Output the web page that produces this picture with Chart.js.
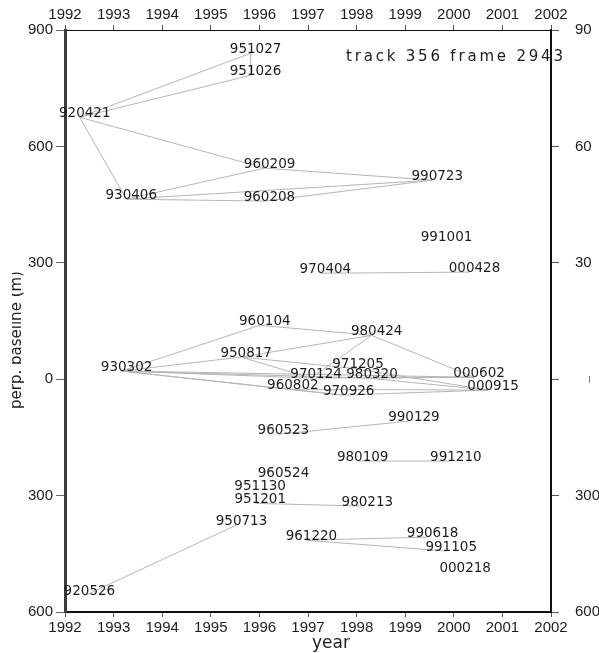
<!DOCTYPE html>
<html>
<head>
<meta charset="utf-8">
<script src="https://cdn.jsdelivr.net/npm/chart.js@4.4.1/dist/chart.umd.min.js"></script>
<style>
  html, body { margin: 0; padding: 0; background: #fff; }
  #wrap { width: 599px; height: 653px; }
</style>
</head>
<body>
<div id="wrap"><canvas id="c" width="599" height="653"></canvas></div>
<script>
// Acquisition dates (YYMMDD) and their perpendicular baselines in metres
const acquisitions = [
  '920421', '951027', '951026', '960209', '990723', '930406', '960208',
  '991001', '970404', '000428',
  '960104', '980424', '950817', '930302', '971205', '970124', '980320',
  '000602', '960802', '970926', '000915',
  '990129', '960523', '980109', '991210', '960524', '951130', '951201',
  '980213', '950713', '961220', '990618', '991105', '000218', '920526'
];
const baselines = [
  675, 840, 783, 544, 513, 464, 459,
  356, 273, 276,
  139, 113, 57, 21, 28, 3, 3,
  5, -26, -41, -28,
  -108, -142, -211, -211, -253, -286, -320,
  -327, -376, -415, -407, -443, -497, -558
];
// Interferometric pairs joined by a line
const pairs = [
  ['920421', '951027'], ['920421', '951026'], ['951027', '951026'],
  ['920421', '960209'], ['920421', '930406'], ['930406', '960209'],
  ['930406', '960208'], ['930406', '990723'], ['960209', '990723'],
  ['960208', '990723'],
  ['970404', '000428'],
  ['930302', '960104'], ['930302', '950817'], ['930302', '970124'],
  ['930302', '980320'], ['930302', '960802'], ['930302', '000602'],
  ['930302', '970926'],
  ['960104', '980424'], ['950817', '980424'], ['950817', '971205'],
  ['950817', '970124'], ['980424', '970124'], ['980424', '000602'],
  ['970124', '000602'], ['980320', '000602'], ['971205', '000915'],
  ['960802', '000915'], ['970926', '000915'], ['960802', '970926'],
  ['980320', '000915'],
  ['960523', '990129'], ['980109', '991210'], ['951201', '980213'],
  ['920526', '950713'], ['961220', '990618'], ['961220', '991105']
];
const yearTicks = ['1992', '1993', '1994', '1995', '1996', '1997', '1998', '1999', '2000', '2001', '2002'];
const leftTickLabels = ['600', '300', '0', '300', '600', '900'];          // -600 .. 900
const rightTickLabels = ['600', '300', '       |', '30', '60', '90'];     // -600 .. 900
const plotTitle = 'track 356 frame 2943';
const xTitle = 'year';
const yTitle = 'perp. baseline (m)';

// YYMMDD -> decimal year
function decimalYear(s) {
  const yy = +s.slice(0, 2), mm = +s.slice(2, 4), dd = +s.slice(4, 6);
  const y = yy >= 90 ? 1900 + yy : 2000 + yy;
  const start = Date.UTC(y, 0, 1), end = Date.UTC(y + 1, 0, 1);
  return y + (Date.UTC(y, mm - 1, dd) - start) / (end - start);
}

const nodes = acquisitions.map((d, i) => ({ x: decimalYear(d), y: baselines[i] }));
const idx = d => acquisitions.indexOf(d);

const datasets = [{
  label: 'acquisitions',
  data: nodes,
  pointRadius: 0,
  pointHoverRadius: 0,
  showLine: false
}];
pairs.forEach(([a, b]) => {
  datasets.push({
    label: a + '-' + b,
    data: [nodes[idx(a)], nodes[idx(b)]],
    showLine: true,
    borderColor: '#b5b5b5',
    borderWidth: 1,
    pointRadius: 0,
    pointHoverRadius: 0
  });
});

const tickFont = { family: 'Liberation Sans', size: 15 };

// Date labels next to each acquisition
const dateLabels = {
  id: 'dateLabels',
  afterDatasetsDraw(chart) {
    const ctx = chart.ctx;
    const meta = chart.getDatasetMeta(0);
    ctx.save();
    ctx.font = '13.5px "DejaVu Sans"';
    ctx.fillStyle = '#1c1c1c';
    ctx.textAlign = 'center';
    ctx.textBaseline = 'middle';
    meta.data.forEach((pt, i) => {
      ctx.fillText(acquisitions[i], pt.x + 5, pt.y - 4);
    });
    ctx.restore();
  }
};

// Plot title and axis titles
const titles = {
  id: 'titles',
  afterDatasetsDraw(chart) {
    const ctx = chart.ctx;
    const area = chart.chartArea;
    ctx.save();
    ctx.fillStyle = '#1c1c1c';
    ctx.font = '15px "DejaVu Sans"';
    if ('letterSpacing' in ctx) ctx.letterSpacing = '2.8px';
    ctx.textAlign = 'left';
    ctx.textBaseline = 'alphabetic';
    ctx.fillText(plotTitle, 346, 61);
    if ('letterSpacing' in ctx) ctx.letterSpacing = '0px';

    ctx.font = '17px "DejaVu Sans"';
    ctx.textAlign = 'center';
    ctx.fillText(xTitle, 331, 648);

    ctx.beginPath();
    ctx.rect(12, area.top, 40, area.bottom - area.top);
    ctx.clip();
    ctx.translate(21, 340);
    ctx.rotate(-Math.PI / 2);
    ctx.font = '15px "DejaVu Sans"';
    ctx.textAlign = 'center';
    ctx.textBaseline = 'alphabetic';
    ctx.fillText(yTitle, 0, 0);
    ctx.restore();
  }
};

new Chart(document.getElementById('c'), {
  type: 'scatter',
  data: { datasets },
  options: {
    responsive: false,
    animation: false,
    devicePixelRatio: 1,
    layout: { padding: 0 },
    plugins: { legend: { display: false }, tooltip: { enabled: false } },
    scales: {
      x: {
        type: 'linear', position: 'bottom', min: 1992, max: 2002,
        afterFit: s => { s.height = 41; },
        ticks: { stepSize: 1, autoSkip: false, maxRotation: 0, padding: 2, color: '#1c1c1c', font: tickFont,
                 callback: v => yearTicks[Math.round(v - 1992)] },
        grid: { display: true, drawOnChartArea: false, drawTicks: true, tickLength: 5, color: '#555' },
        border: { display: true, color: '#111', width: 2 }
      },
      x2: {
        type: 'linear', position: 'top', min: 1992, max: 2002,
        afterFit: s => { s.height = 30; },
        ticks: { stepSize: 1, autoSkip: false, maxRotation: 0, padding: 1, color: '#1c1c1c', font: tickFont,
                 callback: v => yearTicks[Math.round(v - 1992)] },
        grid: { display: true, drawOnChartArea: false, drawTicks: true, tickLength: 5, color: '#555' },
        border: { display: true, color: '#111', width: 1 }
      },
      y: {
        type: 'linear', position: 'left', min: -600, max: 900, z: 1,
        afterFit: s => { s.width = 65; },
        ticks: { stepSize: 300, autoSkip: false, padding: 3, color: '#1c1c1c', font: tickFont,
                 callback: v => leftTickLabels[Math.round((v + 600) / 300)] },
        grid: { display: true, drawOnChartArea: false, drawTicks: true, tickLength: 9, color: '#666' },
        border: { display: true, color: '#3c3c3c', width: 3 }
      },
      y2: {
        type: 'linear', position: 'right', min: -600, max: 900, z: 1,
        afterFit: s => { s.width = 48; },
        ticks: { stepSize: 300, autoSkip: false, padding: 16, color: '#1c1c1c',
                 font: c => (c.tick && c.tick.value === 0) ? { family: 'Liberation Sans', size: 7 } : tickFont,
                 callback: v => rightTickLabels[Math.round((v + 600) / 300)] },
        grid: { display: true, drawOnChartArea: false, drawTicks: true, tickLength: 8, color: '#555' },
        border: { display: true, color: '#111', width: 2 }
      }
    }
  },
  plugins: [dateLabels, titles]
});
</script>
</body>
</html>
